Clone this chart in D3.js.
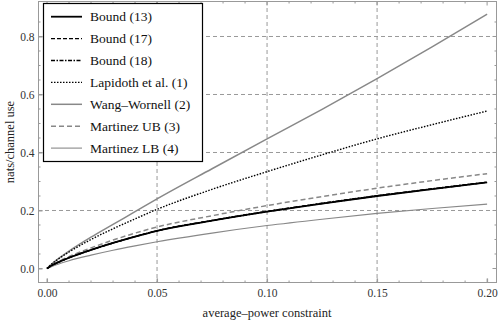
<!DOCTYPE html>
<html><head><meta charset="utf-8">
<script src="https://cdn.jsdelivr.net/npm/d3@7"></script>
<style>body{margin:0;background:#fff}svg{display:block}</style>
</head><body><svg id="c" width="498" height="324"></svg>
<script>
const xs = [0, 0.0025, 0.005, 0.01, 0.02, 0.03, 0.04, 0.05, 0.075, 0.1, 0.125, 0.15, 0.175, 0.2];
const bound13 = [0, 0.012, 0.021, 0.037, 0.064, 0.088, 0.110, 0.130, 0.165, 0.196, 0.224, 0.250, 0.274, 0.297];
const bound17 = [0, 0.012, 0.021, 0.037, 0.064, 0.088, 0.110, 0.130, 0.165, 0.196, 0.224, 0.250, 0.274, 0.297];
const bound18 = [0, 0.012, 0.021, 0.037, 0.064, 0.088, 0.110, 0.130, 0.166, 0.197, 0.225, 0.251, 0.275, 0.298];
const lapidoth = [0, 0.018, 0.032, 0.057, 0.100, 0.137, 0.171, 0.204, 0.273, 0.334, 0.392, 0.447, 0.496, 0.543];
const wangWornell = [0, 0.018, 0.033, 0.060, 0.108, 0.152, 0.196, 0.240, 0.344, 0.447, 0.549, 0.655, 0.764, 0.877];
const martinezUB = [0, 0.013, 0.023, 0.041, 0.071, 0.098, 0.122, 0.143, 0.182, 0.217, 0.248, 0.277, 0.303, 0.327];
const martinezLB = [0, 0.008, 0.015, 0.027, 0.046, 0.063, 0.078, 0.092, 0.122, 0.148, 0.170, 0.190, 0.207, 0.222];
const xTicks = [0, 0.05, 0.1, 0.15, 0.2];
const yTicks = [0, 0.2, 0.4, 0.6, 0.8];
const xGrid = [0.05, 0.1, 0.15];
const yGrid = [0.2, 0.4, 0.6, 0.8];
const seriesNames = ["Bound (13)", "Bound (17)", "Bound (18)", "Lapidoth et al. (1)", "Wang\u2013Wornell (2)", "Martinez UB (3)", "Martinez LB (4)"];
const xLabel = "average\u2013power constraint";
const yLabel = "nats/channel use";

const series = [
  {name: seriesNames[0], v: bound13, color: "#000", w: 1.8, dash: null},
  {name: seriesNames[1], v: bound17, color: "#000", w: 1.4, dash: "4,2"},
  {name: seriesNames[2], v: bound18, color: "#000", w: 1.4, dash: "4,1.5,1.5,1.5"},
  {name: seriesNames[3], v: lapidoth, color: "#000", w: 1.4, dash: "1.5,1.5"},
  {name: seriesNames[4], v: wangWornell, color: "#888", w: 1.5, dash: null},
  {name: seriesNames[5], v: martinezUB, color: "#888", w: 1.5, dash: "5,3"},
  {name: seriesNames[6], v: martinezLB, color: "#888", w: 1.1, dash: null}
];

const FONT = "'Liberation Serif','Times New Roman','DejaVu Serif',serif";
const L = 38, R = 497, T = 1, B = 283;
const x = d3.scaleLinear().domain([-0.0041, 0.2045]).range([L, R]);
const y = d3.scaleLinear().domain([-0.05, 0.9224]).range([B, T]);
const svg = d3.select("#c");

// grid
svg.append("g").selectAll("line").data(xGrid).join("line")
  .attr("x1", d => x(d)).attr("x2", d => x(d)).attr("y1", T).attr("y2", B)
  .attr("stroke", "#999").attr("stroke-width", 1).attr("stroke-dasharray", "4,3");
svg.append("g").selectAll("line").data(yGrid).join("line")
  .attr("y1", d => y(d)).attr("y2", d => y(d)).attr("x1", L).attr("x2", R)
  .attr("stroke", "#999").attr("stroke-width", 1).attr("stroke-dasharray", "4,3");

// curves
const line = d3.line().x((d, i) => x(xs[i])).y(d => y(d)).curve(d3.curveMonotoneX);
const order = [6, 5, 4, 3, 0, 1, 2];
order.forEach(i => {
  const s = series[i];
  svg.append("path").attr("d", line(s.v)).attr("fill", "none")
    .attr("stroke", s.color).attr("stroke-width", s.w)
    .attr("stroke-dasharray", s.dash);
});

// frame
svg.append("rect").attr("x", L + 0.5).attr("y", T + 0.5).attr("width", R - L - 1).attr("height", B - T - 1)
  .attr("fill", "none").attr("stroke", "#999").attr("stroke-width", 1);

// axes with inward ticks
const fmtX = d3.format(".2f"), fmtY = d3.format(".1f");
const minorX = d3.range(0, 0.2001, 0.01);
const minorY = d3.range(0, 0.9, 0.05);
const axB = d3.axisBottom(x).tickValues(xTicks).tickFormat(fmtX).tickSize(-4).tickPadding(6);
const axL = d3.axisLeft(y).tickValues(yTicks).tickFormat(fmtY).tickSize(-4).tickPadding(4);
const gB = svg.append("g").attr("transform", `translate(0,${B - 0.5})`).call(axB);
const gL = svg.append("g").attr("transform", `translate(${L + 0.5},0)`).call(axL);
[gB, gL].forEach(g => {
  g.attr("font-family", FONT).attr("font-size", 11.5);
  g.select(".domain").remove();
  g.selectAll("line").attr("stroke", "#999");
  g.selectAll("text").attr("fill", "#333");
});
// minor & other-side ticks
const tk = svg.append("g").attr("stroke", "#999").attr("stroke-width", 1);
minorX.forEach(v => {
  const major = xTicks.some(t => Math.abs(t - v) < 1e-9);
  const len = major ? 4 : 2;
  tk.append("line").attr("x1", x(v)).attr("x2", x(v)).attr("y1", B).attr("y2", B - len - 0.5);
  tk.append("line").attr("x1", x(v)).attr("x2", x(v)).attr("y1", T).attr("y2", T + len + 0.5);
});
minorY.forEach(v => {
  const major = yTicks.some(t => Math.abs(t - v) < 1e-9);
  const len = major ? 4 : 2;
  tk.append("line").attr("y1", y(v)).attr("y2", y(v)).attr("x1", L).attr("x2", L + len + 0.5);
  tk.append("line").attr("y1", y(v)).attr("y2", y(v)).attr("x1", R).attr("x2", R - len - 0.5);
});

// axis labels
svg.append("text").attr("x", 267).attr("y", 317).attr("text-anchor", "middle")
  .attr("font-family", FONT).attr("font-size", 12.5).attr("fill", "#222").text(xLabel);
svg.append("text").attr("transform", `translate(14,142) rotate(-90)`).attr("text-anchor", "middle")
  .attr("font-family", FONT).attr("font-size", 12.5).attr("fill", "#222").text(yLabel);

// legend
const lg = svg.append("g").attr("font-family", FONT);
lg.append("rect").attr("x", 43.5).attr("y", 3.5).attr("width", 159).attr("height", 158)
  .attr("fill", "#fff").attr("stroke", "#000").attr("stroke-width", 1.2);
series.forEach((s, i) => {
  const cy = 16.7 + i * 21.9;
  lg.append("line").attr("x1", 51).attr("x2", 82).attr("y1", cy).attr("y2", cy)
    .attr("stroke", s.color).attr("stroke-width", s.w).attr("stroke-dasharray", s.dash);
  lg.append("text").attr("x", 90).attr("y", cy + 4.5).attr("font-size", 13.5).attr("fill", "#111").text(s.name);
});
</script></body></html>
